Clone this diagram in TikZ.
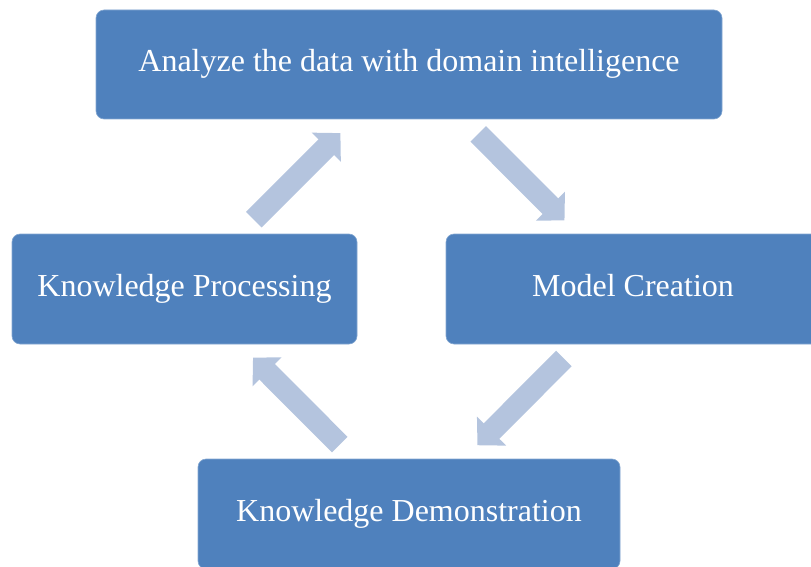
\documentclass[tikz,border=0pt]{standalone}
\usepackage{fontspec}
\setmainfont{Liberation Serif}
\usetikzlibrary{arrows.meta}

\definecolor{stageblue}{HTML}{4F81BD}
\definecolor{flowblue}{HTML}{B4C4DE}

\begin{document}
\begin{tikzpicture}[
        x=1pt, y=-1pt,
        stage/.style={
            fill=stageblue,
            draw=stageblue!70!white,
            line width=0.6pt,
            rounded corners=8pt,
            text=white,
            font=\fontsize{32}{38}\selectfont,
            minimum height=110pt,
            text height=21pt, text depth=7pt,
            inner sep=0pt,
            anchor=center
        },
        flow/.style={
            draw=flowblue,
            line width=22pt,
            -{Triangle[width=40pt,length=20pt]},
            shorten <=98pt, shorten >=97pt
        }
    ]
    \useasboundingbox (0,0) rectangle (811,567);
    \clip (0,0) rectangle (811,567);

    \node[stage, minimum width=626pt, minimum height=109pt] (analyze) at (409,64.5) {Analyze the data with domain intelligence};
    \node[stage, minimum width=345pt] (processing) at (184.5,289) {Knowledge Processing};
    \node[stage, minimum width=374pt] (creation) at (633,289) {Model Creation};
    \node[stage, minimum width=422pt] (demo) at (409,514) {Knowledge Demonstration};

    \draw[flow] (processing.center) -- (analyze.center);
    \draw[flow] (analyze.center) -- (creation.center);
    \draw[flow] (creation.center) -- (demo.center);
    \draw[flow] (demo.center) -- (processing.center);
\end{tikzpicture}
\end{document}
